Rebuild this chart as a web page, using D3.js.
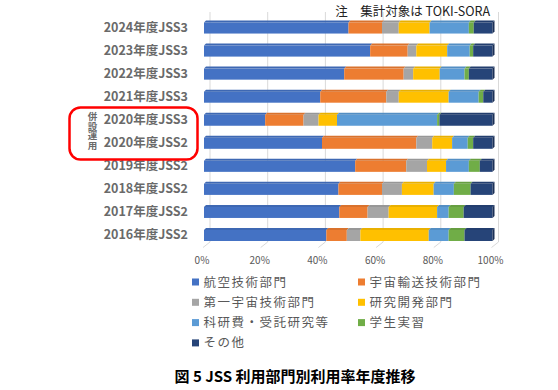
<!DOCTYPE html>
<html>
<head>
<meta charset="utf-8">
<script src="https://cdn.jsdelivr.net/npm/d3@7"></script>
<style>
  body { margin: 0; background: #fff; }
  svg { display: block; font-family: "Noto Sans CJK JP", "Noto Sans", sans-serif; }
</style>
</head>
<body>
<div id="chart"></div>
<script>
// categories top to bottom, as in the picture
const categories = ['2024年度JSS3', '2023年度JSS3', '2022年度JSS3', '2021年度JSS3', '2020年度JSS3',
  '2020年度JSS2', '2019年度JSS2', '2018年度JSS2', '2017年度JSS2', '2016年度JSS2'];
const seriesNames = ['航空技術部門', '宇宙輸送技術部門', '第一宇宙技術部門', '研究開発部門',
  '科研費・受託研究等', '学生実習', 'その他'];

// shares in %, same order as categories
const koku    = [50.1, 57.6, 48.6, 40.3, 21.2, 40.9, 52.4, 46.6, 46.9, 42.4];
const yuso    = [11.6, 13.0, 20.6, 22.9, 13.3, 32.7, 17.7, 15.1, 9.8, 7.1];
const daiichi = [5.8, 3.0, 3.3, 4.3, 5.2, 5.5, 7.2, 6.9, 7.3, 4.7];
const kenkyu  = [10.7, 10.7, 9.2, 17.3, 6.4, 6.9, 6.6, 11.0, 16.8, 23.7];
const kaken   = [13.6, 7.8, 8.6, 10.4, 34.7, 5.4, 7.9, 7.0, 4.0, 6.9];
const gakusei = [1.7, 1.2, 1.5, 1.6, 0.8, 1.9, 3.8, 5.8, 5.2, 5.5];
const sonota  = [6.5, 6.7, 8.2, 3.2, 18.4, 6.7, 4.4, 7.6, 10.0, 9.7];

const tickValues = [0, 20, 40, 60, 80, 100];
const noteText = '注　集計対象は TOKI-SORA';
const groupLabel = '併設運用';
const caption = '図 5 JSS 利用部門別利用率年度推移';

const colors = ['#4472C4', '#ED7D31', '#A5A5A5', '#FFC000', '#5B9BD5', '#70AD47', '#264478'];

const width = 558, height = 390;
const svg = d3.select('#chart').append('svg')
  .attr('width', width)
  .attr('height', height);

// table for the stack
const seriesValues = [koku, yuso, daiichi, kenkyu, kaken, gakusei, sonota];
const rows = categories.map(function (c, i) {
  const r = { cat: c };
  seriesNames.forEach(function (s, j) { r[s] = seriesValues[j][i]; });
  return r;
});
const stacked = d3.stack().keys(seriesNames)(rows);

const x = d3.scaleLinear().domain([0, 100]).range([204, 492.5]);
const y = d3.scaleBand().domain(categories).range([15.5, 246]).paddingInner(0.434).paddingOuter(0.217);

const depthX = 6, depthY = 5;   // back wall offset (3D look)
const topH = 2;                 // bar top face

// gridlines on the back wall + floor slant
const grid = svg.append('g').attr('stroke', '#D9D9D9').attr('fill', 'none');
tickValues.forEach(function (v) {
  grid.append('path')
    .attr('d', 'M' + (x(v) + depthX) + ',12 V242 L' + (x(v) - 1) + ',' + (242 + depthY + 0.5));
});

// tick labels
svg.append('g').selectAll('text')
  .data(tickValues)
  .join('text')
  .attr('x', function (d) { return x(d) - 2; })
  .attr('y', 264)
  .attr('text-anchor', 'middle')
  .attr('font-size', 10)
  .attr('fill', '#595959')
  .text(function (d) { return d + '%'; });

// bars
const bars = svg.append('g');
stacked.forEach(function (layer, j) {
  const col = d3.color(colors[j]);
  const g = bars.append('g');
  g.selectAll('rect')
    .data(layer)
    .join('rect')
    .attr('x', function (d) { return x(d[0]); })
    .attr('y', function (d) { return y(d.data.cat) + topH; })
    .attr('width', function (d) { return x(d[1]) - x(d[0]); })
    .attr('height', y.bandwidth() - topH)
    .attr('fill', colors[j]);
  g.selectAll('path.top')
    .data(layer)
    .join('path')
    .attr('class', 'top')
    .attr('fill', col.darker(0.25))
    .attr('d', function (d) {
      const t = y(d.data.cat) + topH;
      return 'M' + x(d[0]) + ',' + t + ' L' + x(d[1]) + ',' + t +
        ' L' + (x(d[1]) + topH) + ',' + (t - topH) + ' L' + (x(d[0]) + topH) + ',' + (t - topH) + 'Z';
    });
  if (j === stacked.length - 1) {
    // right end side face
    g.selectAll('path.side')
      .data(layer)
      .join('path')
      .attr('class', 'side')
      .attr('fill', col.darker(0.9))
      .attr('d', function (d) {
        const t = y(d.data.cat) + topH, b = y(d.data.cat) + y.bandwidth();
        return 'M' + x(d[1]) + ',' + t + ' L' + (x(d[1]) + topH) + ',' + (t - topH) +
          ' L' + (x(d[1]) + topH) + ',' + (b - topH) + ' L' + x(d[1]) + ',' + b + 'Z';
      });
  }
});

// category labels
svg.append('g').selectAll('text')
  .data(categories)
  .join('text')
  .attr('x', 188)
  .attr('y', function (d) { return y(d) + y.bandwidth() / 2 + 5; })
  .attr('text-anchor', 'end')
  .attr('font-size', 12.5)
  .attr('font-weight', 'bold')
  .attr('fill', '#6a6a6a')
  .text(function (d) { return d; });

// red box round the two 2020 rows
svg.append('rect')
  .attr('x', 69.5).attr('y', 107.5)
  .attr('width', 128).attr('height', 52)
  .attr('rx', 11)
  .attr('fill', 'none')
  .attr('stroke', '#FF0000')
  .attr('stroke-width', 2.5);

// vertical label inside the box
svg.append('text')
  .attr('x', 92.5)
  .attr('y', 112)
  .attr('writing-mode', 'vertical-rl')
  .attr('font-size', 9.5)
  .attr('font-weight', 'bold')
  .attr('fill', '#6a6a6a')
  .text(groupLabel);

// note top right
svg.append('text')
  .attr('x', 490).attr('y', 16)
  .attr('text-anchor', 'end')
  .attr('font-size', 12.5)
  .attr('fill', '#222')
  .text(noteText);

// legend, two columns
const legend = svg.append('g');
seriesNames.forEach(function (s, i) {
  const cx = i % 2 === 0 ? 192 : 358;
  const cy = 282 + Math.floor(i / 2) * 20.3;
  legend.append('rect')
    .attr('x', cx).attr('y', cy - 3.5)
    .attr('width', 7).attr('height', 7)
    .attr('fill', colors[i]);
  legend.append('text')
    .attr('x', cx + 11.5).attr('y', cy + 4.5)
    .attr('font-size', 12.5)
    .attr('letter-spacing', 1.5)
    .attr('fill', '#595959')
    .text(s);
});

// caption
svg.append('text')
  .attr('x', 295).attr('y', 382)
  .attr('text-anchor', 'middle')
  .attr('font-size', 15)
  .attr('font-weight', 'bold')
  .attr('fill', '#000')
  .text(caption);
</script>
</body>
</html>
